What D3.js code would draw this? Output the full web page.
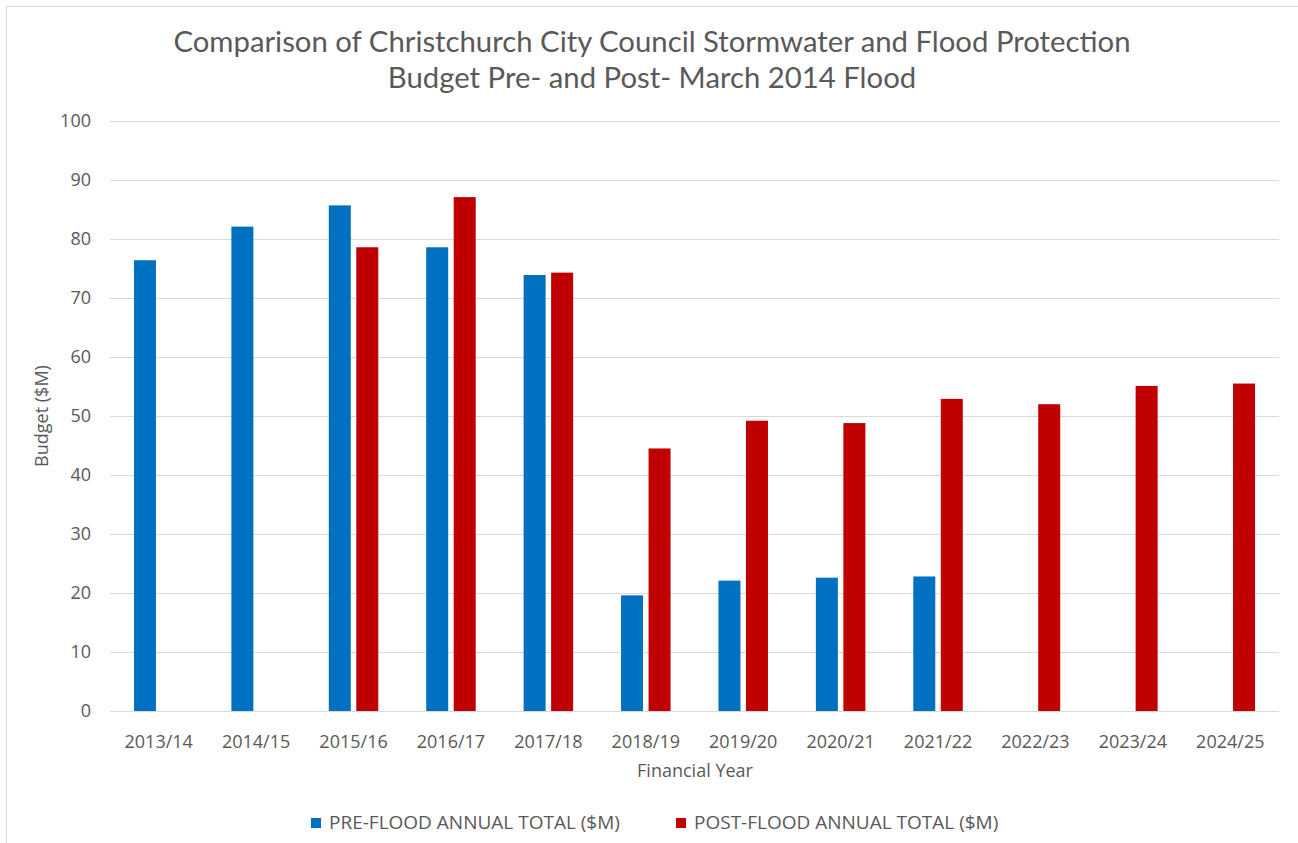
<!DOCTYPE html>
<meta charset="utf-8">
<script src="https://d3js.org/d3.v7.min.js"></script>
<style>
  body { margin: 0; background: #fff; }
</style>
<svg id="chart" width="1298" height="843"></svg>
<script>
  // data
  const years = ["2013/14","2014/15","2015/16","2016/17","2017/18","2018/19","2019/20","2020/21","2021/22","2022/23","2023/24","2024/25"];
  const preFlood = [76.4, 82.1, 85.7, 78.6, 73.9, 19.6, 22.1, 22.6, 22.8, null, null, null];
  const postFlood = [null, null, 78.6, 87.1, 74.3, 44.5, 49.2, 48.8, 52.9, 52.0, 55.1, 55.5];
  const yTicks = [0, 10, 20, 30, 40, 50, 60, 70, 80, 90, 100];
  const seriesNames = ["PRE-FLOOD ANNUAL TOTAL ($M)", "POST-FLOOD ANNUAL TOTAL ($M)"];
  const seriesColors = ["#0070C0", "#C00000"];

  const svg = d3.select("#chart");
  const margin = {left: 110, right: 1279, top: 121, bottom: 711};
  const textColor = "#595959";
  const tickFont = "'Open Sans', sans-serif";

  // chart frame
  svg.append("rect")
    .attr("x", 6.5).attr("y", 6.5)
    .attr("width", 1320).attr("height", 860)
    .attr("fill", "none").attr("stroke", "#d9d9d9");

  const x = d3.scaleBand().domain(years).range([margin.left, margin.right]);
  const y = d3.scaleLinear().domain([0, 100]).range([margin.bottom, margin.top]);

  // gridlines
  svg.append("g").selectAll("line").data(yTicks).enter().append("line")
    .attr("x1", margin.left).attr("x2", margin.right)
    .attr("y1", d => Math.round(y(d)) + 0.5).attr("y2", d => Math.round(y(d)) + 0.5)
    .attr("stroke", "#d9d9d9").attr("stroke-width", 1);

  // y tick labels
  svg.append("g").selectAll("text").data(yTicks).enter().append("text")
    .attr("x", 91).attr("y", d => y(d))
    .attr("dy", "0.35em")
    .attr("text-anchor", "end")
    .style("font-family", tickFont).style("font-size", "18px").style("fill", textColor)
    .text(d => d);

  // x tick labels
  svg.append("g").selectAll("text").data(years).enter().append("text")
    .attr("x", d => x(d) + x.bandwidth() / 2).attr("y", 748)
    .attr("text-anchor", "middle")
    .style("font-family", tickFont).style("font-size", "18px").style("fill", textColor)
    .text(d => d);

  // bars
  const barW = 22, gap = 5.5;
  const series = [preFlood, postFlood];
  series.forEach(function(vals, s) {
    svg.append("g").selectAll("rect")
      .data(years.map((yr, i) => ({yr: yr, v: vals[i]})).filter(d => d.v != null))
      .enter().append("rect")
        .attr("x", d => x(d.yr) + x.bandwidth() / 2 + (s === 0 ? -gap / 2 - barW : gap / 2))
        .attr("y", d => y(d.v))
        .attr("width", barW)
        .attr("height", d => y(0) - y(d.v))
        .attr("fill", seriesColors[s]);
  });

  // title
  const title = svg.append("text")
    .attr("text-anchor", "middle")
    .style("font-family", "Lato, sans-serif").style("font-size", "29.3px").style("fill", textColor);
  title.append("tspan").attr("x", 652).attr("y", 52)
    .text("Comparison of Christchurch City Council Stormwater and Flood Protection");
  title.append("tspan").attr("x", 652).attr("y", 88)
    .text("Budget Pre- and Post- March 2014 Flood");

  // axis titles
  svg.append("text")
    .attr("x", 695).attr("y", 777)
    .attr("text-anchor", "middle")
    .style("font-family", tickFont).style("font-size", "18px").style("fill", textColor)
    .text("Financial Year");

  svg.append("text")
    .attr("transform", "translate(48," + (margin.top + margin.bottom) / 2 + ") rotate(-90)")
    .attr("text-anchor", "middle")
    .style("font-family", tickFont).style("font-size", "18px").style("fill", textColor)
    .text("Budget ($M)");

  // legend
  const legendX = [311, 676];
  const legend = svg.append("g").selectAll("g").data(seriesNames).enter().append("g")
    .attr("transform", (d, i) => "translate(" + legendX[i] + ",818)");
  legend.append("rect")
    .attr("width", 10).attr("height", 10)
    .attr("fill", (d, i) => seriesColors[i]);
  legend.append("text")
    .attr("x", 18).attr("y", 11)
    .style("font-family", tickFont).style("font-size", "19px").style("fill", textColor)
    .text(d => d);
</script>
